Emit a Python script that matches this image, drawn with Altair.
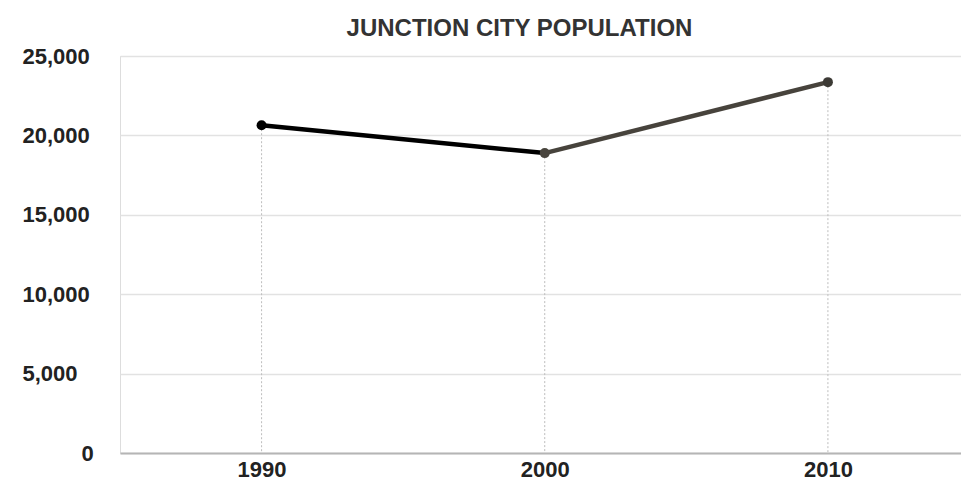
import altair as alt
import pandas as pd

years = [1990, 2000, 2010]
population = [20642, 18886, 23353]
point_colors = ["#000000", "#48443d", "#3c3a35"]
segment_colors = ["#000000", "#47433c"]
y_ticks = [0, 5000, 10000, 15000, 20000, 25000]
x_ticks = [1990, 2000, 2010]

FONT = "Liberation Sans Narrow, Arial Narrow, Liberation Sans, Arial, sans-serif"

pts = pd.DataFrame({"year": years, "pop": population, "color": point_colors})

seg_rows = []
for i in range(len(years) - 1):
    for j in (i, i + 1):
        seg_rows.append({"seg": i, "year": years[j], "pop": population[j],
                         "color": segment_colors[i]})
segs = pd.DataFrame(seg_rows)

xs = alt.Scale(domain=[1985, 2014.7], nice=False, zero=False)
ys = alt.Scale(domain=[0, 25000], nice=False)

x_axis = alt.Axis(values=x_ticks, format="d", grid=False, ticks=False,
                  domainColor="#b5b5b5", domainWidth=2, labelPadding=23,
                  labelFont=FONT, labelFontSize=22, labelFontWeight="bold",
                  labelColor="#222222", title=None, labelBaseline="alphabetic")
y_axis = alt.Axis(values=y_ticks, format=",d", grid=True, gridColor="#e2e2e2",
                  gridWidth=1.5, ticks=False, domain=False,
                  labelAlign="left",
                  labelPadding={"condition": {"test": "datum.value == 0", "value": 39},
                                "value": 98},
                  labelFont=FONT, labelFontSize=22, labelFontWeight="bold",
                  labelColor="#222222", title=None)

X = alt.X("year:Q", scale=xs, axis=x_axis)
Y = alt.Y("pop:Q", scale=ys, axis=y_axis)

base = alt.Chart(pts)

drops = base.mark_rule(color="#bdbdbd", strokeWidth=1, strokeDash=[2, 2]).encode(
    x=X, y=Y, y2=alt.datum(0),
)

lines = alt.Chart(segs).mark_line(strokeWidth=4.5).encode(
    x=X, y=Y,
    detail="seg:N",
    color=alt.Color("color:N", scale=None),
)

dots = base.mark_circle(size=100, opacity=1).encode(
    x=X, y=Y,
    color=alt.Color("color:N", scale=None),
)

chart = (drops + lines + dots).properties(
    width=841,
    height=397,
    title=alt.TitleParams("JUNCTION CITY POPULATION", font=FONT, fontSize=24,
                          fontWeight="bold", color="#333333", anchor="middle",
                          baseline="alphabetic", offset=-15, dx=-21),
    padding={"left": 120, "top": 56, "right": 0, "bottom": 29},
    autosize=alt.AutoSizeParams(type="none"),
).configure_view(stroke="transparent", strokeWidth=0).configure(
    background="white"
).configure_axisY(domain=False).configure_axisX(grid=False)

chart.save("out.html", embed_options={"renderer": "svg", "actions": False})
